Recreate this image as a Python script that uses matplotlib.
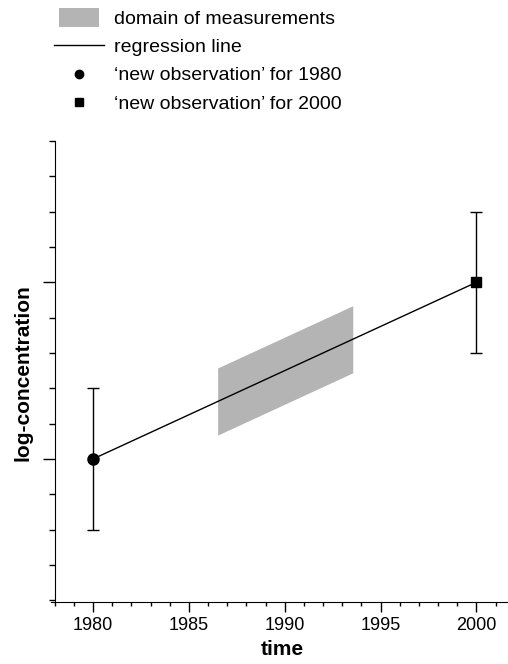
import numpy as np
import matplotlib
matplotlib.use('Agg')
import matplotlib.pyplot as plt
from matplotlib.patches import Patch, Rectangle
from matplotlib.lines import Line2D
from matplotlib.legend_handler import HandlerPatch

plt.rcParams['font.family'] = ['Liberation Sans', 'DejaVu Sans']

# 'new observations' and their uncertainty
obs_years = [1980, 2000]
obs_values = [1.0, 2.0]
obs_err = [0.4, 0.4]

# regression line runs through both observations
reg_years = [1980, 2000]
reg_values = [1.0, 2.0]

# domain covered by the measurements
domain_years = [1986.5, 1993.55]
domain_halfwidth = 0.19

xticks = [1980, 1985, 1990, 1995, 2000]

fig = plt.figure(figsize=(5.08, 6.64), dpi=100)
ax = fig.add_axes([50.9 / 508, 1 - 602 / 664, (508 - 50.9) / 508, (602 - 141) / 664])

gray = '#b4b4b4'

# gray band around regression line
dx = np.array(domain_years)
slope = (reg_values[1] - reg_values[0]) / (reg_years[1] - reg_years[0])
dy = reg_values[0] + slope * (dx - reg_years[0])
ax.fill_between(dx, dy - domain_halfwidth, dy + domain_halfwidth,
                color=gray, lw=0, zorder=1)

ax.plot(reg_years, reg_values, color='black', lw=1.0, zorder=2)

ax.errorbar(obs_years[:1], obs_values[:1], yerr=obs_err[:1], fmt='o', color='black',
            ms=8, capsize=4, elinewidth=1, capthick=1, zorder=3)
ax.errorbar(obs_years[1:], obs_values[1:], yerr=obs_err[1:], fmt='s', color='black',
            ms=7, capsize=4, elinewidth=1, capthick=1, zorder=3)

ax.set_xlim(1977.8, 2001.65)
ax.set_ylim(0.19, 2.8)
ax.spines['top'].set_visible(False)
ax.spines['right'].set_visible(False)
ax.spines['left'].set_position(('data', 1978))
ax.spines['left'].set_bounds(0.19, 2.8)

ax.set_xticks(xticks)
ax.set_xticks(np.arange(1978, 2002, 1), minor=True)
ax.set_yticks([1, 2])
ax.set_yticks(np.arange(0.2, 2.81, 0.2), minor=True)
ax.set_yticklabels([])
ax.tick_params(axis='x', which='major', length=7, width=1, labelsize=13, pad=4)
ax.tick_params(axis='x', which='minor', length=3, width=1)
ax.tick_params(axis='y', which='major', length=8.5, width=1)
ax.tick_params(axis='y', which='minor', length=4.3, width=1)

ax.set_xlabel('time', fontsize=15, fontweight='bold')
ax.set_ylabel('log-concentration', fontsize=15, fontweight='bold')
ax.xaxis.set_label_coords(0.507, -0.083)
ax.yaxis.set_label_coords(-0.04, 0.497)


def small_patch(legend, orig_handle, xdescent, ydescent, width, height, fontsize):
    w = width * 0.8
    return Rectangle((xdescent + (width - w) / 2, ydescent - height * 0.2), w, height * 1.4)


handles = [
    Patch(facecolor=gray, edgecolor='none'),
    Line2D([], [], color='black', lw=1),
    Line2D([], [], color='black', marker='o', ls='none', ms=6),
    Line2D([], [], color='black', marker='s', ls='none', ms=5.8),
]
labels = ['domain of measurements', 'regression line',
          '\u2018new observation\u2019 for 1980', '\u2018new observation\u2019 for 2000']
fig.legend(handles, labels, loc='upper left', bbox_to_anchor=(0.075, 1.008),
           frameon=False, fontsize=14, handlelength=2.58, handletextpad=0.5,
           labelspacing=0.55, borderpad=0.3,
           handler_map={Patch: HandlerPatch(patch_func=small_patch)})

fig.savefig('out.png', dpi=100)
